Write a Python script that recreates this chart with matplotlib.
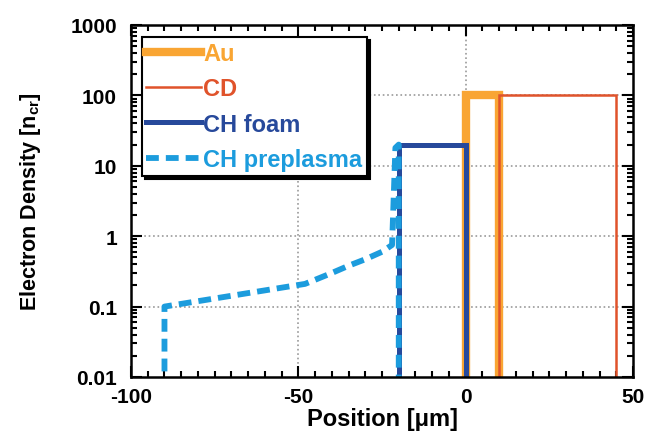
import numpy as np
import matplotlib.pyplot as plt
from matplotlib.ticker import MultipleLocator, LogLocator

plt.rcParams['font.family'] = ['Liberation Sans', 'DejaVu Sans']
plt.rcParams['font.weight'] = 'bold'
plt.rcParams['axes.unicode_minus'] = False
plt.rcParams['mathtext.fontset'] = 'custom'
plt.rcParams['mathtext.rm'] = 'Liberation Sans:bold'
plt.rcParams['mathtext.it'] = 'Liberation Sans:bold'

# density profiles (position in um, density in n_cr)
au_x = [0, 0, 10, 10]
au_y = [0.005, 100, 100, 0.005]

cd_x = [10, 10, 45, 45]
cd_y = [0.01, 100, 100, 0.01]

foam_x = [-20, -20, 0, 0]
foam_y = [0.01, 20, 20, 0.01]

pre_x = [-90, -90, -48, -45, -40, -35, -30, -25, -22, -21, -20, -20]
pre_y = [0.012, 0.1, 0.21, 0.24, 0.3, 0.38, 0.47, 0.6, 0.75, 18, 20, 0.01]

fig = plt.figure(figsize=(6.57, 4.39), dpi=100)
ax = fig.add_axes([0.1994, 0.139, 0.7641, 0.8018])

ax.plot(au_x, au_y, color='#F9A533', lw=6, label='Au', solid_joinstyle='miter')
ax.plot(cd_x, cd_y, color='#E0532B', lw=1.8, label='CD', solid_joinstyle='miter')
ax.plot(foam_x, foam_y, color='#27499B', lw=3.6, label='CH foam', solid_joinstyle='miter')
ax.plot(pre_x, pre_y, color='#1C9CDD', lw=4.2, ls=(0, (2.2, 1.2)), label='CH preplasma')

ax.set_yscale('log')
ax.set_xlim(-100, 50)
ax.set_ylim(0.01, 1000)

ax.xaxis.set_major_locator(MultipleLocator(50))
ax.xaxis.set_minor_locator(MultipleLocator(5))
ax.yaxis.set_minor_locator(LogLocator(base=10, subs=np.arange(2, 10), numticks=20))
ax.set_yticks([0.01, 0.1, 1, 10, 100, 1000])
ax.set_yticklabels(['0.01', '0.1', '1', '10', '100', '1000'])

ax.tick_params(which='both', direction='in', top=True, right=True, width=1.5)
ax.tick_params(which='major', length=8, labelsize=15)
ax.tick_params(axis='y', which='major', pad=10)
ax.tick_params(axis='x', which='major', pad=7)
ax.tick_params(which='minor', length=4)
for s in ax.spines.values():
    s.set_linewidth(1.8)

for gx in [-50, 0]:
    ax.axvline(gx, color='#999999', lw=1.2, ls=':', zorder=0)
for gy in [0.1, 1, 10, 100]:
    ax.axhline(gy, color='#999999', lw=1.2, ls=':', zorder=0)

ax.set_xlabel('Position [\u03bcm]', fontsize=17, fontweight='bold', labelpad=1)
ax.set_ylabel('Electron Density [n$_{cr}$]', fontsize=15.5, fontweight='bold', labelpad=20)

leg = ax.legend(loc='upper left', bbox_to_anchor=(0.012, 0.978), fontsize=17,
                frameon=True, fancybox=False, edgecolor='black', handlelength=2.3,
                handletextpad=0.1, labelspacing=0.52, borderpad=0.2, borderaxespad=0.2,
                shadow={'facecolor': 'black', 'edgecolor': 'black', 'alpha': 1})
leg.get_frame().set_linewidth(1.5)
for text, line in zip(leg.get_texts(), leg.get_lines()):
    text.set_color(line.get_color())

fig.savefig('out.png', dpi=100)
